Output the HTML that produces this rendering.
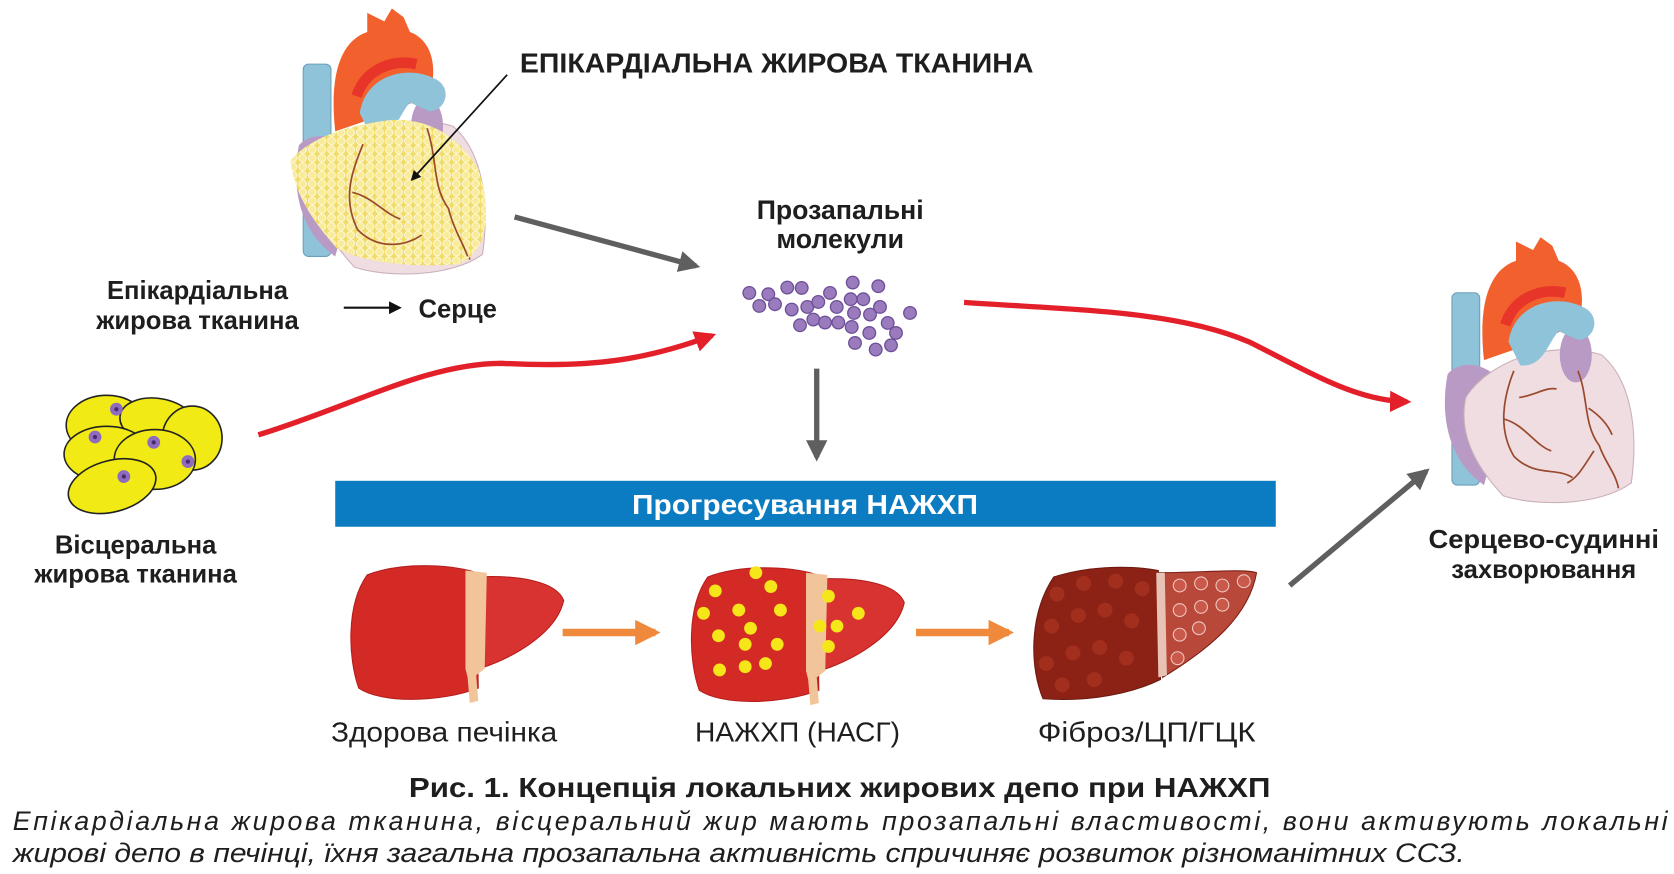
<!DOCTYPE html>
<html><head><meta charset="utf-8"><style>
html,body{margin:0;padding:0;background:#fff;}
svg{display:block;}
text{font-family:"Liberation Sans","DejaVu Sans",sans-serif;fill:#1e1e1e;}
</style></head><body>
<svg width="1674" height="874" viewBox="0 0 1568 818" preserveAspectRatio="none" xmlns="http://www.w3.org/2000/svg">
<defs>
<pattern id="fat" width="9" height="8" patternUnits="userSpaceOnUse">
 <rect width="9" height="8" fill="#f1dc6a"/>
 <circle cx="4.5" cy="4" r="3.6" fill="#f8ec9c" stroke="#fffbe0" stroke-width="0.8"/>
</pattern>
<marker id="ag" viewBox="0 0 10 10" refX="8" refY="5" markerWidth="4" markerHeight="4" orient="auto"><path d="M0,0 L10,5 L0,10 Z" fill="#5f5f5f"/></marker>
<marker id="ar" viewBox="0 0 10 10" refX="8" refY="5" markerWidth="4" markerHeight="4" orient="auto"><path d="M0,0 L10,5 L0,10 Z" fill="#e3202a"/></marker>
<marker id="ab" viewBox="0 0 10 10" refX="8" refY="5" markerWidth="6" markerHeight="6" orient="auto"><path d="M0,0 L10,5 L0,10 Z" fill="#111"/></marker>
<marker id="ao" viewBox="0 0 10 10" refX="8" refY="5" markerWidth="3.4" markerHeight="3.4" orient="auto"><path d="M0,0 L10,5 L0,10 Z" fill="#ef8a3c"/></marker>
<g id="heart">
 <rect x="12" y="52" width="26" height="180" rx="5" fill="#8fc3d9" stroke="#6aa0b8"/>
 <path d="M42,115 C36,60 48,30 72,22 L72,4 L88,12 L95,0 L106,8 L112,22 C134,30 138,58 130,80 L100,95 Z" fill="#f2612d"/>
 <path d="M62,82 C70,57 95,47 118,52" stroke="#e8352a" stroke-width="10" fill="none"/>
 <path d="M8,128 C0,170 10,210 42,232 L65,150 C55,118 22,112 8,128Z" fill="#b99ac5"/>
 <path d="M25,150 C45,118 100,95 152,110 C176,130 188,172 180,230 C150,252 90,252 60,242 C32,212 18,182 25,150Z" fill="#f0dde2" stroke="#c9b0b8"/>
 <ellipse cx="128" cy="110" rx="15" ry="26" fill="#b99ac5"/>
 <path d="M65,98 C70,62 110,52 136,66 C152,74 146,96 130,96 L112,88 C102,98 98,122 76,120 Z" fill="#8fc3d9"/>
 <g stroke="#9a4a2c" stroke-width="1.6" fill="none">
  <path d="M70,125 C60,150 55,180 70,205 C90,225 110,215 125,225"/>
  <path d="M60,170 C80,175 90,195 105,200"/>
  <path d="M75,150 C90,148 100,140 110,142"/>
  <path d="M130,125 C140,150 135,175 150,195 C155,210 165,220 168,235"/>
  <path d="M140,160 C155,170 160,180 162,185"/>
  <path d="M145,200 C135,215 130,225 120,230"/>
 </g>
</g>
<g id="liver">
 <path d="M18,12 C55,-2 105,4 120,10 L122,118 C85,132 30,132 10,118 C0,90 -2,40 18,12Z" fill="#d42a26" stroke="#b51e1c"/>
 <path d="M120,14 C160,12 195,18 202,36 C195,68 150,92 122,100 Z" fill="#d83330" stroke="#b51e1c"/>
 <path d="M110,8 L130,10 L128,100 L120,106 L122,130 L114,132 L112,108 L110,100 Z" fill="#f2c49a"/>
</g>
</defs>

<use href="#heart" transform="translate(272,8)"/>
<path d="M272,150 C295,125 330,118 360,113 C400,108 430,128 448,158 C462,200 456,236 430,247 C390,251 340,246 315,232 C298,212 276,186 272,150Z" fill="url(#fat)"/>
<g stroke="#9a4a2c" stroke-width="1.6" fill="none">
 <path d="M340,135 C330,160 320,185 335,215 C355,235 380,230 395,220"/>
 <path d="M330,180 C350,185 360,200 375,205"/>
 <path d="M400,120 C410,150 405,175 420,195 C425,215 435,230 438,240"/>
</g>

<text x="487" y="68" font-size="26" font-weight="bold" fill="#222" textLength="481" lengthAdjust="spacingAndGlyphs">ЕПІКАРДІАЛЬНА ЖИРОВА ТКАНИНА</text>
<line x1="475" y1="70" x2="386" y2="168" stroke="#111" stroke-width="1.6" marker-end="url(#ab)"/>

<text x="185" y="280" font-size="24" font-weight="bold" text-anchor="middle">Епікардіальна</text>
<text x="185" y="308" font-size="24" font-weight="bold" text-anchor="middle">жирова тканина</text>
<line x1="322" y1="288" x2="374" y2="288" stroke="#111" stroke-width="2" marker-end="url(#ab)"/>
<text x="392" y="297" font-size="24" font-weight="bold">Серце</text>

<line x1="482" y1="203" x2="652" y2="249" stroke="#5f5f5f" stroke-width="5" marker-end="url(#ag)"/>

<text x="787" y="205" font-size="25" font-weight="bold" text-anchor="middle">Прозапальні</text>
<text x="787" y="232" font-size="25" font-weight="bold" text-anchor="middle">молекули</text>

<g transform="scale(0.93668)" fill="#9a7bbd" stroke="#6d4f98" stroke-width="1.3">
 <circle cx="749.3" cy="292.7" r="6.3"/><circle cx="768.3" cy="294" r="6.3"/><circle cx="787.3" cy="287.3" r="6.3"/><circle cx="801.7" cy="287.7" r="6.3"/>
 <circle cx="759.3" cy="305.7" r="6.3"/><circle cx="775" cy="304" r="6.3"/><circle cx="791.7" cy="309.3" r="6.3"/><circle cx="807.3" cy="306.7" r="6.3"/>
 <circle cx="818.3" cy="301.7" r="6.3"/><circle cx="830" cy="292.7" r="6.3"/><circle cx="852.7" cy="282.3" r="6.3"/><circle cx="878.3" cy="286" r="6.3"/>
 <circle cx="800" cy="325" r="6.3"/><circle cx="813.3" cy="319.3" r="6.3"/><circle cx="825" cy="322.3" r="6.3"/><circle cx="836.7" cy="306.7" r="6.3"/>
 <circle cx="838.3" cy="322.3" r="6.3"/><circle cx="850.7" cy="299" r="6.3"/><circle cx="863.3" cy="299" r="6.3"/><circle cx="854" cy="312.7" r="6.3"/>
 <circle cx="851.7" cy="326.7" r="6.3"/><circle cx="870" cy="314.3" r="6.3"/><circle cx="880" cy="306.7" r="6.3"/><circle cx="910" cy="312.7" r="6.3"/>
 <circle cx="887.7" cy="322.7" r="6.3"/><circle cx="896" cy="332.7" r="6.3"/><circle cx="869.3" cy="332.7" r="6.3"/><circle cx="855" cy="342.7" r="6.3"/>
 <circle cx="875.7" cy="349.3" r="6.3"/><circle cx="891" cy="345" r="6.3"/>
</g>

<path d="M242,407 C330,380 400,340 470,340 C560,345 610,335 667,314" stroke="#e3202a" stroke-width="5" fill="none" marker-end="url(#ar)"/>
<path d="M903,283 C1000,290 1100,290 1170,320 C1230,350 1270,375 1318,376" stroke="#e3202a" stroke-width="5" fill="none" marker-end="url(#ar)"/>

<line x1="765" y1="345" x2="765" y2="428" stroke="#5f5f5f" stroke-width="5" marker-end="url(#ag)"/>

<rect x="314" y="450" width="881" height="43" fill="#0b7cc1"/>
<text x="592" y="481" font-size="26" font-weight="bold" style="fill:#fff" textLength="324" lengthAdjust="spacingAndGlyphs">Прогресування НАЖХП</text>

<g fill="#f1ea14" stroke="#222" stroke-width="1.5">
 <ellipse cx="100" cy="398" rx="38" ry="28"/>
 <ellipse cx="148" cy="395" rx="36" ry="22" transform="rotate(10 148 395)"/>
 <ellipse cx="180" cy="410" rx="28" ry="30"/>
 <ellipse cx="100" cy="425" rx="40" ry="26"/>
 <ellipse cx="145" cy="430" rx="38" ry="28"/>
 <ellipse cx="105" cy="455" rx="42" ry="24" transform="rotate(-15 105 455)"/>
</g>
<g fill="#4a2a6a" stroke="#8f6bc0" stroke-width="4">
 <circle cx="109" cy="383" r="4"/><circle cx="89" cy="409" r="4"/><circle cx="144" cy="414" r="4"/><circle cx="176" cy="432" r="4"/><circle cx="116" cy="446" r="4"/>
</g>
<text x="127" y="518" font-size="24" font-weight="bold" text-anchor="middle">Вісцеральна</text>
<text x="127" y="545" font-size="24" font-weight="bold" text-anchor="middle">жирова тканина</text>

<use href="#liver" transform="translate(326,526)"/>
<g transform="translate(645,528)">
 <use href="#liver"/>
 <g fill="#f5e61a">
  <circle cx="63" cy="8" r="6"/><circle cx="25" cy="25" r="6"/><circle cx="77" cy="21" r="6"/><circle cx="14" cy="46" r="6"/><circle cx="47" cy="43" r="6"/><circle cx="86" cy="43" r="6"/>
  <circle cx="58" cy="60" r="6"/><circle cx="28" cy="67" r="6"/><circle cx="53" cy="75" r="6"/><circle cx="83" cy="75" r="6"/><circle cx="29" cy="99" r="6"/><circle cx="53" cy="96" r="6"/><circle cx="72" cy="93" r="6"/>
  <circle cx="131" cy="30" r="6"/><circle cx="159" cy="46" r="6"/><circle cx="123" cy="58" r="6"/><circle cx="139" cy="58" r="6"/><circle cx="131" cy="77" r="6"/>
 </g>
</g>
<g transform="translate(965,526)">
 <path d="M22,14 C60,2 100,4 120,8 L122,110 C85,128 40,130 12,128 C0,100 -2,50 22,14Z" fill="#8c2216" stroke="#6e1a10"/>
 <path d="M118,10 C160,10 200,6 212,10 C205,50 170,80 124,108 Z" fill="#b8483a" stroke="#7a1e14"/>
 <path d="M118,10 L126,10 L128,106 L120,108 Z" fill="#e8c2b4"/>
 <g fill="#a8321f" opacity="0.8">
  <circle cx="25" cy="30" r="7"/><circle cx="50" cy="20" r="7"/><circle cx="80" cy="18" r="7"/><circle cx="105" cy="25" r="7"/><circle cx="20" cy="60" r="7"/><circle cx="45" cy="50" r="7"/><circle cx="70" cy="45" r="7"/><circle cx="95" cy="55" r="7"/><circle cx="15" cy="95" r="7"/><circle cx="40" cy="85" r="7"/><circle cx="65" cy="80" r="7"/><circle cx="90" cy="90" r="7"/><circle cx="30" cy="115" r="7"/><circle cx="60" cy="110" r="7"/>
 </g>
 <g fill="#c9594b" stroke="#f0c8c0" stroke-width="1"><circle cx="140" cy="22" r="6"/><circle cx="160" cy="20" r="6"/><circle cx="180" cy="22" r="6"/><circle cx="200" cy="18" r="6"/><circle cx="140" cy="45" r="6"/><circle cx="160" cy="42" r="6"/><circle cx="180" cy="40" r="6"/><circle cx="140" cy="68" r="6"/><circle cx="158" cy="62" r="6"/><circle cx="138" cy="90" r="6"/></g>
</g>

<line x1="527" y1="592" x2="614" y2="592" stroke="#ef8a3c" stroke-width="7" marker-end="url(#ao)"/>
<line x1="858" y1="592" x2="945" y2="592" stroke="#ef8a3c" stroke-width="7" marker-end="url(#ao)"/>

<text x="310" y="694" font-size="26" textLength="212" lengthAdjust="spacingAndGlyphs">Здорова печінка</text>
<text x="651" y="694" font-size="26" textLength="192" lengthAdjust="spacingAndGlyphs">НАЖХП (НАСГ)</text>
<text x="972" y="694" font-size="26" textLength="204" lengthAdjust="spacingAndGlyphs">Фіброз/ЦП/ГЦК</text>

<line x1="1208" y1="548" x2="1336" y2="441" stroke="#5f5f5f" stroke-width="5" marker-end="url(#ag)"/>

<use href="#heart" transform="translate(1348,222)"/>

<text x="1446" y="513" font-size="24" font-weight="bold" text-anchor="middle" textLength="216" lengthAdjust="spacingAndGlyphs">Серцево-судинні</text>
<text x="1446" y="541" font-size="24" font-weight="bold" text-anchor="middle">захворювання</text>

<text x="383" y="746" font-size="26" font-weight="bold" textLength="807" lengthAdjust="spacingAndGlyphs">Рис. 1. Концепція локальних жирових депо при НАЖХП</text>
<text x="12" y="777" font-size="25" font-style="italic" textLength="1550" lengthAdjust="spacing">Епікардіальна жирова тканина, вісцеральний жир мають прозапальні властивості, вони активують локальні</text>
<text x="12" y="807" font-size="25" font-style="italic" textLength="1360" lengthAdjust="spacingAndGlyphs">жирові депо в печінці, їхня загальна прозапальна активність спричиняє розвиток різноманітних ССЗ.</text>
</svg>
</body></html>
